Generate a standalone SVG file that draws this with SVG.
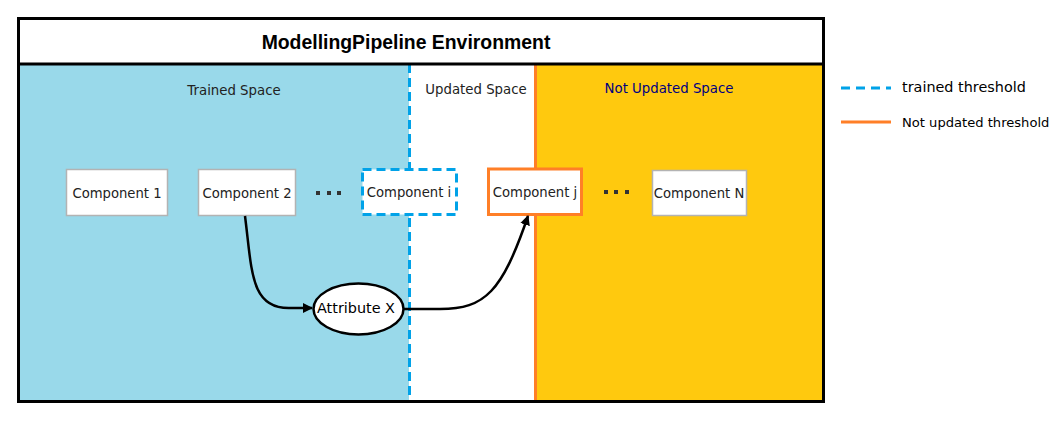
<svg xmlns="http://www.w3.org/2000/svg" width="1059" height="423" viewBox="0 0 1059 423">
<defs>
<style>
.lbl{font-family:"DejaVu Sans","Verdana",sans-serif;font-size:13.2px;fill:#222;text-anchor:middle;dominant-baseline:central}
.comp{fill:#fff;stroke:#b3b3b3;stroke-width:1.5}
.dot{fill:#333}
.edge{fill:none;stroke:#000;stroke-width:2.5}
</style>
<marker id="arr" viewBox="0 0 10 10" refX="9" refY="5" markerWidth="4" markerHeight="4" orient="auto" markerUnits="strokeWidth">
<path d="M0,0 L10,5 L0,10 Z" fill="#000"/>
</marker>
</defs>
<rect width="1059" height="423" fill="#fff"/>
<g id="env">
<rect x="19" y="64" width="390" height="338" fill="#99d9ea"/>
<rect x="409" y="64" width="127" height="338" fill="#fff"/>
<rect x="536" y="64" width="288" height="338" fill="#ffc90e"/>
<line x1="409.5" y1="64" x2="409.5" y2="402" stroke="#00a2e8" stroke-width="3" stroke-dasharray="9,5"/>
<line x1="535.5" y1="64" x2="535.5" y2="402" stroke="#ff7f27" stroke-width="3"/>
<rect x="18.5" y="18.5" width="805" height="383" fill="none" stroke="#000" stroke-width="3"/>
<line x1="18" y1="64" x2="824" y2="64" stroke="#000" stroke-width="3"/>
<text x="406" y="42" font-family="Liberation Sans, Arial, sans-serif" font-size="19.4" font-weight="bold" text-anchor="middle" dominant-baseline="central" fill="#000">ModellingPipeline Environment</text>
<text class="lbl" x="234" y="90" style="font-size:13.3px">Trained Space</text>
<text class="lbl" x="476" y="89" style="font-size:13.3px">Updated Space</text>
<text class="lbl" x="669" y="88" style="font-size:13.3px;fill:#000080">Not Updated Space</text>
</g>
<g id="component1">
<rect class="comp" x="66.5" y="169.5" width="101" height="46"/>
<text class="lbl" x="117" y="193">Component 1</text>
</g>
<g id="component2">
<rect class="comp" x="198.5" y="169.5" width="97" height="46"/>
<text class="lbl" x="247" y="193">Component 2</text>
</g>
<g id="dots1">
<rect class="dot" x="316" y="191" width="4" height="4"/>
<rect class="dot" x="327" y="191" width="4" height="4"/>
<rect class="dot" x="337" y="191" width="4" height="4"/>
</g>
<g id="componenti">
<rect x="362.5" y="169.5" width="94" height="45" fill="#fff" stroke="#00a2e8" stroke-width="3" stroke-dasharray="9,5"/>
<text class="lbl" x="409" y="192">Component i</text>
</g>
<g id="componentj">
<rect x="488.5" y="169" width="93" height="45.5" fill="#fff" stroke="#ff7f27" stroke-width="3"/>
<text class="lbl" x="535" y="192">Component j</text>
</g>
<g id="dots2">
<rect class="dot" x="604" y="190" width="4" height="4"/>
<rect class="dot" x="614" y="190" width="4" height="4"/>
<rect class="dot" x="625" y="190" width="4" height="4"/>
</g>
<g id="componentN">
<rect class="comp" x="652.5" y="170.5" width="94" height="45"/>
<text class="lbl" x="699" y="193">Component N</text>
</g>
<g id="attributeX">
<ellipse cx="358.5" cy="309" rx="45" ry="25.5" fill="#fff" stroke="#000" stroke-width="2.5"/>
<text class="lbl" x="356" y="308" style="font-size:14.4px;fill:#000">Attribute X</text>
</g>
<g id="connectors">
<path class="edge" d="M245,216 C252,270 250,309 290,308 L312,308" marker-end="url(#arr)"/>
<path class="edge" d="M404,309 L440,309 C485,309 502,292 528,216" marker-end="url(#arr)"/>
</g>
<g id="legend">
<line x1="841" y1="88" x2="891" y2="88" stroke="#00a2e8" stroke-width="3" stroke-dasharray="9,6"/>
<text x="902" y="87" font-family="DejaVu Sans, Verdana, sans-serif" font-size="14.4" dominant-baseline="central" fill="#000">trained threshold</text>
<line x1="841" y1="122" x2="891" y2="122" stroke="#ff7f27" stroke-width="3"/>
<text x="902" y="122" font-family="DejaVu Sans, Verdana, sans-serif" font-size="13.1" dominant-baseline="central" fill="#000">Not updated threshold</text>
</g>
</svg>
